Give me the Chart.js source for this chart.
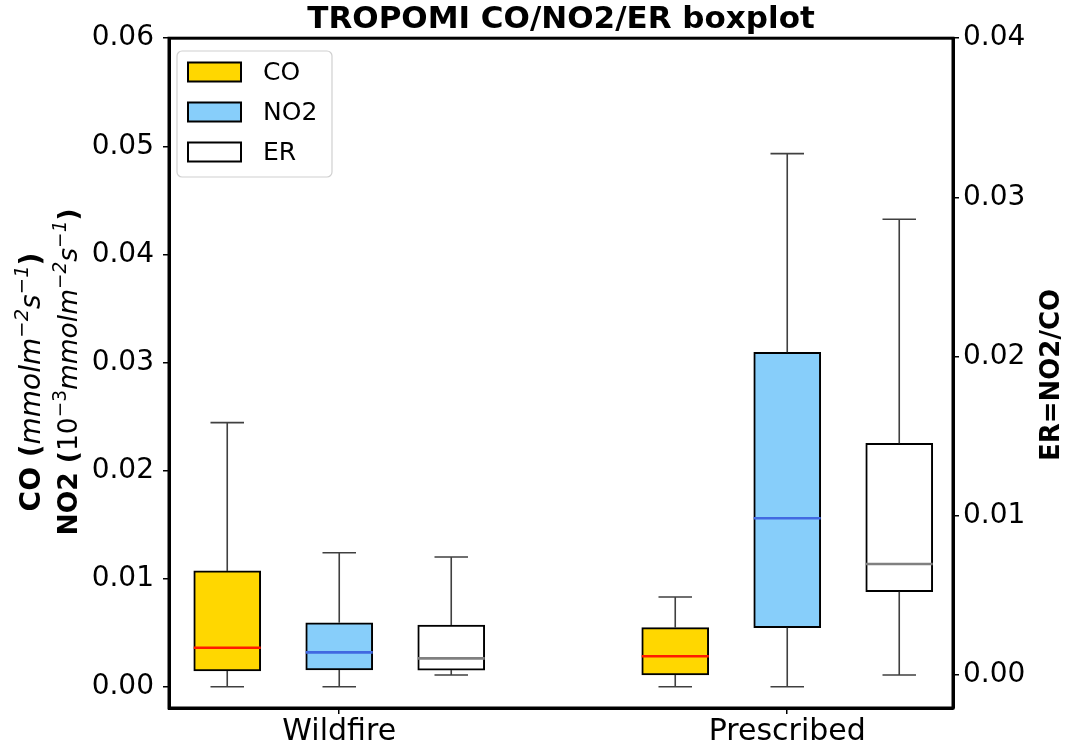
<!DOCTYPE html>
<html>
<head>
<meta charset="utf-8">
<script src="https://cdn.jsdelivr.net/npm/chart.js@4/dist/chart.umd.min.js"></script>
<style>
  body { margin: 0; background: #fff; }
  #wrap { width: 1066px; height: 742px; }
</style>
</head>
<body>
<div id="wrap"><canvas id="c" width="1066" height="742"></canvas></div>
<script>
// categories and tick labels
var groups = ['Wildfire', 'Prescribed'];
var yTicks = [0, 0.01, 0.02, 0.03, 0.04, 0.05, 0.06];
var y1Ticks = [0, 0.01, 0.02, 0.03, 0.04];

// box statistics (Wildfire, Prescribed)
var coMin = [0.0, 0.0];
var coQ1 = [0.00145, 0.00108];
var coMed = [0.00361, 0.00282];
var coQ3 = [0.01071, 0.00546];
var coMax = [0.02443, 0.00830];

var no2Min = [0.0, 0.0];
var no2Q1 = [0.00155, 0.00546];
var no2Med = [0.00318, 0.01558];
var no2Q3 = [0.00592, 0.03094];
var no2Max = [0.01240, 0.04932];

var erMin = [0.0, 0.0];
var erQ1 = [0.00031, 0.00523];
var erMed = [0.00105, 0.00697];
var erQ3 = [0.00314, 0.01456];
var erMax = [0.00741, 0.02863];

var FONT = 'DejaVu Sans';

function makeBoxes(q1, q3, offset) {
	var out = [];
	for (var i = 0; i < groups.length; i++) {
		out.push({x: i + 1 + offset, y: [q1[i], q3[i]]});
	}
	return out;
}

var stats = [
	{min: coMin, med: coMed, max: coMax, q1: coQ1, q3: coQ3, medColor: '#ff1a00'},
	{min: no2Min, med: no2Med, max: no2Max, q1: no2Q1, q3: no2Q3, medColor: '#4169e1'},
	{min: erMin, med: erMed, max: erMax, q1: erQ1, q3: erQ3, medColor: '#808080'}
];

// whiskers, caps and medians on top of the floating bars
var boxPlugin = {
	id: 'boxExtras',
	afterDatasetsDraw: function (chart) {
		var ctx = chart.ctx;
		chart.data.datasets.forEach(function (ds, di) {
			var meta = chart.getDatasetMeta(di);
			var ys = chart.scales[ds.yAxisID];
			var st = stats[di];
			meta.data.forEach(function (el, i) {
				var x = el.x;
				var half = el.width / 2;
				var yMin = ys.getPixelForValue(st.min[i]);
				var yMax = ys.getPixelForValue(st.max[i]);
				var yQ1 = ys.getPixelForValue(st.q1[i]);
				var yQ3 = ys.getPixelForValue(st.q3[i]);
				var yMed = ys.getPixelForValue(st.med[i]);
				ctx.save();
				ctx.strokeStyle = '#404040';
				ctx.lineWidth = 1.6;
				ctx.beginPath();
				ctx.moveTo(x, yQ3); ctx.lineTo(x, yMax);
				ctx.moveTo(x - half / 2, yMax); ctx.lineTo(x + half / 2, yMax);
				ctx.moveTo(x, yQ1); ctx.lineTo(x, yMin);
				ctx.moveTo(x - half / 2, yMin); ctx.lineTo(x + half / 2, yMin);
				ctx.stroke();
				ctx.strokeStyle = st.medColor;
				ctx.lineWidth = 2.6;
				ctx.beginPath();
				ctx.moveTo(x - half, yMed); ctx.lineTo(x + half, yMed);
				ctx.stroke();
				ctx.restore();
			});
		});
	}
};

function drawRich(ctx, segs, cx, cy, size) {
	var total = 0;
	segs.forEach(function (s) {
		var sz = s.sup ? size * 0.7 : size;
		ctx.font = (s.italic ? 'italic ' : '') + (s.bold ? 'bold ' : '') + sz + 'px "' + FONT + '"';
		s.w = ctx.measureText(s.t).width;
		s.sz = sz;
		total += s.w;
	});
	ctx.save();
	ctx.translate(cx, cy);
	ctx.rotate(-Math.PI / 2);
	ctx.textBaseline = 'alphabetic';
	ctx.textAlign = 'left';
	ctx.fillStyle = '#000';
	var x = -total / 2;
	segs.forEach(function (s) {
		ctx.font = (s.italic ? 'italic ' : '') + (s.bold ? 'bold ' : '') + s.sz + 'px "' + FONT + '"';
		ctx.fillText(s.t, x, s.sup ? -size * 0.42 : 0);
		x += s.w;
	});
	ctx.restore();
}

var decorPlugin = {
	id: 'decor',
	afterDraw: function (chart) {
		var ctx = chart.ctx;
		var a = chart.chartArea;
		// frame
		ctx.save();
		ctx.strokeStyle = '#000';
		ctx.lineWidth = 3;
		ctx.strokeRect(a.left, a.top, a.right - a.left, a.bottom - a.top);
		ctx.restore();

		// axis titles
		drawRich(ctx, [
			{t: 'CO (', bold: true},
			{t: 'mmolm', italic: true},
			{t: '\u22122', italic: true, sup: true},
			{t: 's', italic: true},
			{t: '\u22121', italic: true, sup: true},
			{t: ')', bold: true}
		], 40, 382, 28);
		drawRich(ctx, [
			{t: 'NO2 (', bold: true},
			{t: '10'},
			{t: '\u22123', sup: true},
			{t: 'mmolm', italic: true},
			{t: '\u22122', italic: true, sup: true},
			{t: 's', italic: true},
			{t: '\u22121', italic: true, sup: true},
			{t: ')', bold: true}
		], 77, 372, 26.5);
		drawRich(ctx, [{t: 'ER=NO2/CO', bold: true}], 1059, 375, 26);

		// legend
		var lx = 177, ly = 51, lw = 155, lh = 126;
		ctx.save();
		ctx.fillStyle = 'rgba(255,255,255,0.85)';
		ctx.strokeStyle = '#d0d0d0';
		ctx.lineWidth = 1.2;
		ctx.beginPath();
		ctx.roundRect(lx, ly, lw, lh, 5);
		ctx.fill();
		ctx.stroke();
		chart.data.datasets.forEach(function (ds, i) {
			var cy = 72 + i * 40;
			ctx.fillStyle = ds.backgroundColor;
			ctx.fillRect(188, cy - 9.5, 53, 19);
			ctx.strokeStyle = '#000';
			ctx.lineWidth = 2;
			ctx.strokeRect(188, cy - 9.5, 53, 19);
			ctx.fillStyle = '#000';
			ctx.font = '25px "' + FONT + '"';
			ctx.textBaseline = 'middle';
			ctx.fillText(ds.label, 263, cy + 1);
		});
		ctx.restore();
	}
};

var tickFont = {family: FONT, size: 28};

var chart = new Chart(document.getElementById('c'), {
	type: 'bar',
	data: {
		datasets: [
			{label: 'CO', data: makeBoxes(coQ1, coQ3, -0.25), backgroundColor: '#FFD700', yAxisID: 'y'},
			{label: 'NO2', data: makeBoxes(no2Q1, no2Q3, 0), backgroundColor: '#87CEFA', yAxisID: 'y'},
			{label: 'ER', data: makeBoxes(erQ1, erQ3, 0.25), backgroundColor: '#FFFFFF', yAxisID: 'y1'}
		]
	},
	options: {
		responsive: false,
		animation: false,
		layout: {padding: 0},
		datasets: {
			bar: {grouped: false, barThickness: 67, borderColor: '#000', borderWidth: 2, borderSkipped: false}
		},
		plugins: {
			legend: {display: false},
			tooltip: {enabled: false},
			title: {
				display: true,
				fullSize: false,
				text: 'TROPOMI CO/NO2/ER boxplot',
				color: '#000',
				font: {family: FONT, size: 31, weight: 'bold', lineHeight: 1.2},
				padding: {top: 1, bottom: 0}
			}
		},
		scales: {
			x: {
				type: 'linear',
				offset: false,
				min: 0.62,
				max: 2.37,
				afterBuildTicks: function (s) { s.ticks = groups.map(function (g, i) { return {value: i + 1}; }); },
				afterFit: function (s) { s.height = 34; },
				ticks: {
					color: '#000', font: {family: FONT, size: 30}, padding: 0, maxRotation: 0,
					callback: function (v) { return groups[v - 1]; }
				},
				grid: {offset: false, drawOnChartArea: false, tickLength: 6, color: '#000', lineWidth: 1.5},
				border: {color: '#000', width: 3}
			},
			y: {
				position: 'left',
				min: -0.00197,
				max: 0.06,
				afterBuildTicks: function (s) { s.ticks = yTicks.map(function (v) { return {value: v}; }); },
				afterFit: function (s) { s.width = 169; },
				ticks: {color: '#000', font: tickFont, padding: 9, callback: function (v) { return v.toFixed(2); }},
				grid: {drawOnChartArea: false, tickLength: 6, color: '#000', lineWidth: 1.5},
				border: {color: '#000', width: 3}
			},
			y1: {
				position: 'right',
				min: -0.00207,
				max: 0.04,
				afterBuildTicks: function (s) { s.ticks = y1Ticks.map(function (v) { return {value: v}; }); },
				afterFit: function (s) { s.width = 113; },
				ticks: {color: '#000', font: tickFont, padding: 4, callback: function (v) { return v.toFixed(2); }},
				grid: {drawOnChartArea: false, tickLength: 6, color: '#000', lineWidth: 1.5},
				border: {color: '#000', width: 3}
			}
		}
	},
	plugins: [boxPlugin, decorPlugin]
});
</script>
</body>
</html>
